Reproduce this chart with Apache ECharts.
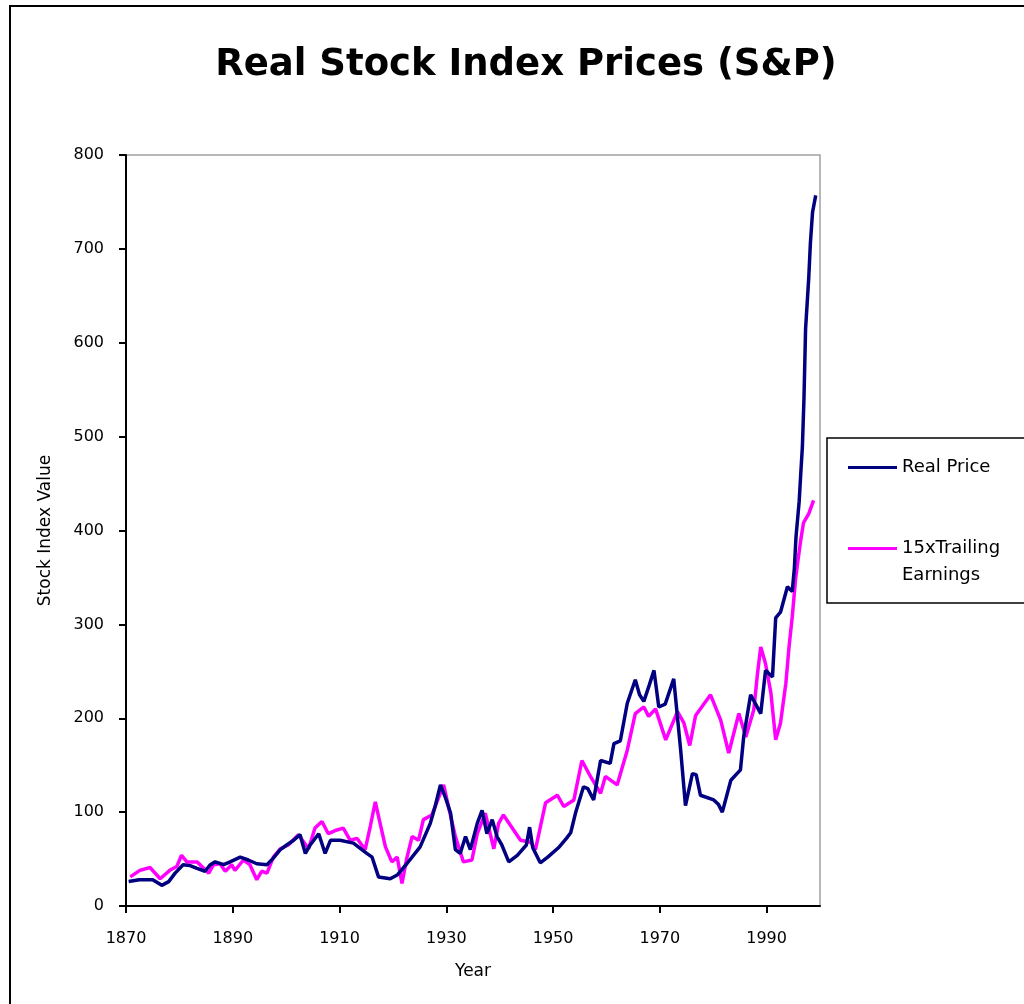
<!DOCTYPE html>
<html>
<head>
<meta charset="utf-8">
<script src="https://cdn.jsdelivr.net/npm/echarts@6/dist/echarts.min.js"></script>
<style>
html,body{margin:0;padding:0;background:#fff;}
#chart{width:1024px;height:1004px;}
</style>
</head>
<body>
<div id="chart"></div>
<script>
const titleText = 'Real Stock Index Prices (S&P)';
const xAxisName = 'Year';
const yAxisName = 'Stock Index Value';
const seriesNames = ['Real Price', '15xTrailing Earnings'];
const xTickValues = [1870, 1890, 1910, 1930, 1950, 1970, 1990];

const realPriceYears = [1870.5,1872.5,1875,1876.7,1878,1879.2,1880.7,1882,1883.3,1884.8,1885.8,1886.7,1888.3,1889.5,1891.4,1892.9,1894.5,1896.4,1897.6,1898.9,1900.1,1901.4,1902.6,1903.6,1904.5,1906.1,1907.3,1908.3,1910.1,1912.6,1915.1,1916.1,1917.3,1919.5,1920.8,1922.6,1925.1,1927,1927.9,1928.9,1929.8,1930.8,1931.7,1932.6,1933.6,1934.5,1935.8,1936.7,1937.6,1938.6,1939.5,1940.4,1941.7,1943.3,1945,1945.6,1946.2,1947.6,1949,1951,1952.5,1953.3,1954.2,1955.7,1956.5,1957.6,1958.9,1960.7,1961.4,1962.6,1963.9,1965.4,1966.2,1967,1968,1968.9,1969.8,1971,1972.6,1973.9,1974.8,1976.1,1976.8,1977.6,1980.1,1981,1981.7,1983.3,1985.1,1985.7,1987,1988.9,1989.8,1991.1,1991.7,1992.6,1993.9,1994.8,1995.2,1995.5,1996.1,1996.4,1996.7,1997,1997.3,1997.9,1998.2,1998.6,1999.2];
const realPriceValues = [26,28,28,22,26,35,44,43,40,37,44,47,44,47,52,49,45,44,51,60,65,70,76,56,65,77,56,70,70,67,56,52,31,29,33,45,63,88,106,129,116,99,60,56,74,60,88,102,77,92,74,65,47,54,65,84,62,46,52,62,72,78,99,127,125,113,155,152,173,176,216,241,225,218,235,251,212,215,242,166,107,141,140,118,113,108,100,134,145,180,225,205,251,244,307,313,340,335,360,393,431,461,489,541,615,670,706,739,757];

const earningsYears = [1870.8,1872.6,1874.5,1876.4,1878.2,1879.5,1880.4,1881.4,1883.3,1885.5,1886.4,1887.6,1888.6,1889.8,1890.4,1892,1893.2,1894.5,1895.4,1896.4,1897.6,1898.9,1900.4,1902.3,1904.2,1905.4,1906.7,1907.9,1909.5,1910.7,1912,1913.3,1914.8,1915.8,1916.7,1917.6,1918.6,1919.8,1920.8,1921.7,1922.6,1923.6,1924.8,1925.7,1927.3,1929.5,1930.4,1931.7,1933.2,1934.8,1935.8,1937.3,1938.9,1939.8,1940.7,1942,1943.9,1945.8,1946.7,1948.6,1950.8,1952,1953.9,1955.4,1957,1958.9,1959.8,1962,1963.9,1965.4,1967,1967.9,1969.2,1971.1,1973.3,1974.5,1975.6,1976.7,1979.5,1981.4,1982.9,1984.8,1986.1,1987.6,1988.3,1988.9,1989.8,1990.8,1991.7,1992.6,1993.6,1994.2,1994.8,1995.4,1995.8,1996.4,1996.9,1997.9,1998.8];
const earningsValues = [31,38,41,29,38,42,54,47,47,35,44,45,37,44,38,49,44,28,37,35,52,61,65,76,61,83,90,77,81,83,70,72,60,86,111,88,63,47,52,24,51,74,70,92,97,129,106,74,47,49,77,99,61,88,97,86,70,68,60,110,118,106,113,155,138,120,138,129,166,205,212,202,210,177,207,195,171,203,225,198,163,205,180,209,248,276,258,227,177,195,237,276,308,347,365,390,408,418,432];

const realData = realPriceYears.map((y, i) => [y, realPriceValues[i]]);
const earnData = earningsYears.map((y, i) => [y, earningsValues[i]]);

const chart = echarts.init(document.getElementById('chart'));
const font = 'DejaVu Sans';
chart.setOption({
  animation: false,
  backgroundColor: '#ffffff',
  title: {
    text: titleText,
    left: 521, top: 42, textAlign: 'center',
    textStyle: {fontFamily: font, fontWeight: 'bold', fontSize: 37, color: '#000'}
  },
  graphic: [
    {type: 'rect', shape: {x: 10, y: 6, width: 1100, height: 1100}, style: {fill: 'none', stroke: '#000', lineWidth: 2}, silent: true, z: -10},
    {type: 'rect', shape: {x: 827, y: 438, width: 300, height: 165}, style: {fill: '#fff', stroke: '#000', lineWidth: 1.5}, silent: true, z: -5}
  ],
  legend: {
    orient: 'vertical',
    left: 848, top: 454,
    padding: 0,
    itemGap: 27,
    icon: 'rect',
    itemWidth: 49, itemHeight: 3,
    textStyle: {fontFamily: font, fontSize: 18, color: '#000', lineHeight: 27},
    data: [seriesNames[0], seriesNames[1]],
    formatter: function (n) { return n === seriesNames[1] ? '\n15xTrailing\nEarnings' : n; }
  },
  grid: {
    left: 126, right: 204, top: 155, bottom: 98,
    show: true, borderColor: '#a0a0a0', borderWidth: 1.5, backgroundColor: '#fff'
  },
  xAxis: {
    type: 'value', min: 1870, max: 2000, interval: 20,
    name: xAxisName, nameLocation: 'middle', nameGap: 57,
    nameTextStyle: {fontFamily: font, fontSize: 17, color: '#000'},
    axisLine: {show: true, lineStyle: {color: '#000', width: 2}},
    axisTick: {show: true, length: 7, lineStyle: {color: '#000', width: 2}, customValues: xTickValues},
    axisLabel: {fontFamily: font, fontSize: 16, color: '#000', margin: 25, customValues: xTickValues,
      formatter: function (v) { return String(v); }},
    splitLine: {show: false}
  },
  yAxis: {
    type: 'value', min: 0, max: 800, interval: 100,
    name: yAxisName, nameLocation: 'middle', nameGap: 72, nameRotate: 90,
    nameTextStyle: {fontFamily: font, fontSize: 17, color: '#000'},
    axisLine: {show: true, lineStyle: {color: '#000', width: 2}},
    axisTick: {show: true, length: 7, lineStyle: {color: '#000', width: 2}},
    axisLabel: {fontFamily: font, fontSize: 16, color: '#000', margin: 22},
    splitLine: {show: false}
  },
  series: [
    {name: seriesNames[0], type: 'line', data: realData, symbol: 'none', z: 3,
     lineStyle: {color: '#000080', width: 3.5}, itemStyle: {color: '#000080'}},
    {name: seriesNames[1], type: 'line', data: earnData, symbol: 'none', z: 2,
     lineStyle: {color: '#ff00ff', width: 3.5}, itemStyle: {color: '#ff00ff'}}
  ]
});
</script>
</body>
</html>
